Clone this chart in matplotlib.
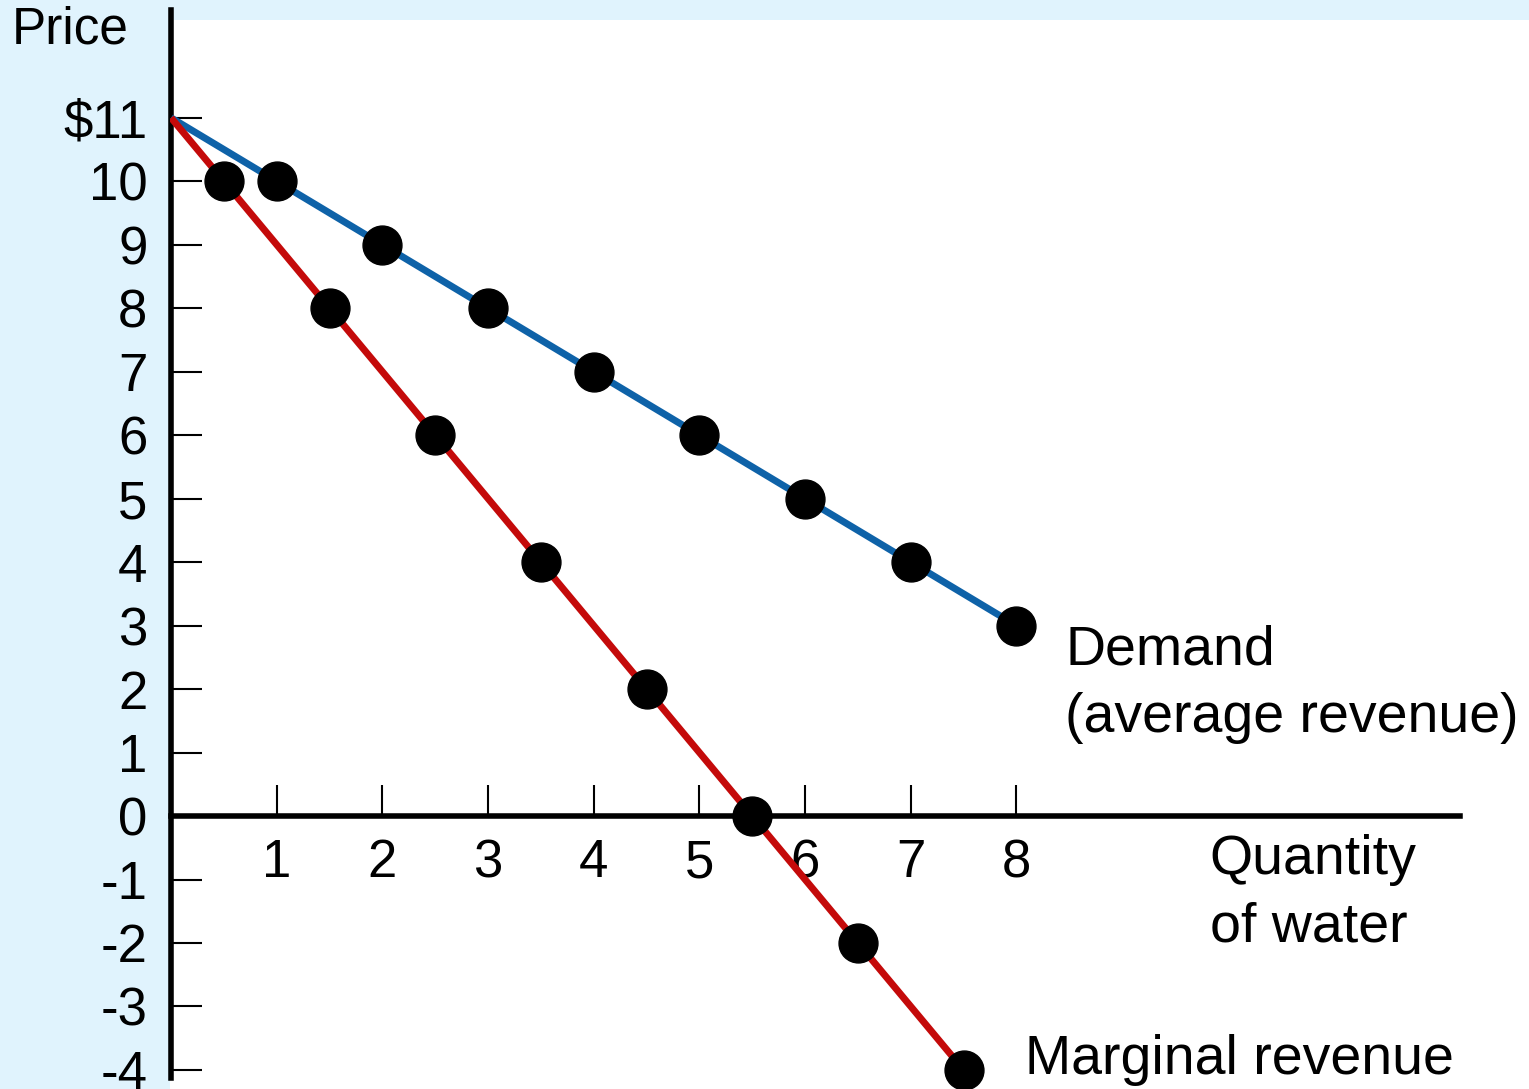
import numpy as np
import matplotlib.pyplot as plt

plt.rcParams.update({
    'font.family': ['Liberation Sans', 'DejaVu Sans'],
    'font.size': 38,
})

# Demand (average revenue) and marginal revenue schedules
intercept = 11
demand_q = [1, 2, 3, 4, 5, 6, 7, 8]
demand_p = [10, 9, 8, 7, 6, 5, 4, 3]
mr_q = [0.5, 1.5, 2.5, 3.5, 4.5, 5.5, 6.5, 7.5]
mr_p = [10, 8, 6, 4, 2, 0, -2, -4]

y_ticks = [11, 10, 9, 8, 7, 6, 5, 4, 3, 2, 1, 0, -1, -2, -3, -4]
y_labels = ['$11'] + [str(v) for v in y_ticks[1:]]
x_ticks = [1, 2, 3, 4, 5, 6, 7, 8]

bg = '#E0F3FD'
blue = '#0E62A8'
red = '#C40A0A'

W, H = 1529, 1089
fig = plt.figure(figsize=(W / 100, H / 100), dpi=100, facecolor=bg)
ax = fig.add_axes([170 / W, 0, 1 - 170 / W, (H - 20) / H])
ax.set_facecolor('white')

ax.set_xlim(-0.01, 12.85)
ax.set_ylim(-4.30, 12.54)

# lines from the common intercept, markers only at schedule points
ax.plot([0] + demand_q, [intercept] + demand_p, color=blue, lw=5, zorder=3,
        solid_capstyle='butt')
ax.plot([0] + mr_q, [intercept] + mr_p, color=red, lw=5, zorder=3,
        solid_capstyle='butt')
ax.plot(demand_q, demand_p, 'o', color='black', ms=28, zorder=4, clip_on=False)
ax.plot(mr_q, mr_p, 'o', color='black', ms=28, zorder=4, clip_on=False)

# axes through the origin
for s in ['top', 'right']:
    ax.spines[s].set_visible(False)
ax.spines['left'].set_position(('data', 0))
ax.spines['bottom'].set_position(('data', 0))
ax.spines['left'].set_linewidth(4)
ax.spines['bottom'].set_linewidth(4)
ax.spines['left'].set_bounds(-4.13, 12.69)
ax.spines['left'].set_clip_on(False)
ax.spines['bottom'].set_bounds(0, 12.2)

ax.set_yticks(y_ticks)
ax.set_yticklabels(y_labels)
ax.set_xticks(x_ticks)
ax.tick_params(axis='both', direction='in', length=22, width=1.5, labelsize=38)
ax.tick_params(axis='y', pad=17)
ax.tick_params(axis='x', pad=16)
for lbl in ax.get_yticklabels():
    lbl.set_clip_on(False)

# annotations
ax.text(8.46, 2.61, 'Demand', fontsize=40, va='center', ha='left')
ax.text(8.46, 1.54, '(average revenue)', fontsize=40, va='center', ha='left')
ax.text(9.83, -0.69, 'Quantity', fontsize=40, va='center', ha='left')
ax.text(9.83, -1.76, 'of water', fontsize=40, va='center', ha='left')
ax.text(8.08, -3.84, 'Marginal revenue', fontsize=40, va='center', ha='left')

fig.text(12 / W, 1 - 30 / H, 'Price', fontsize=37, va='center', ha='left')

fig.savefig('out.png', dpi=100, facecolor=bg)
